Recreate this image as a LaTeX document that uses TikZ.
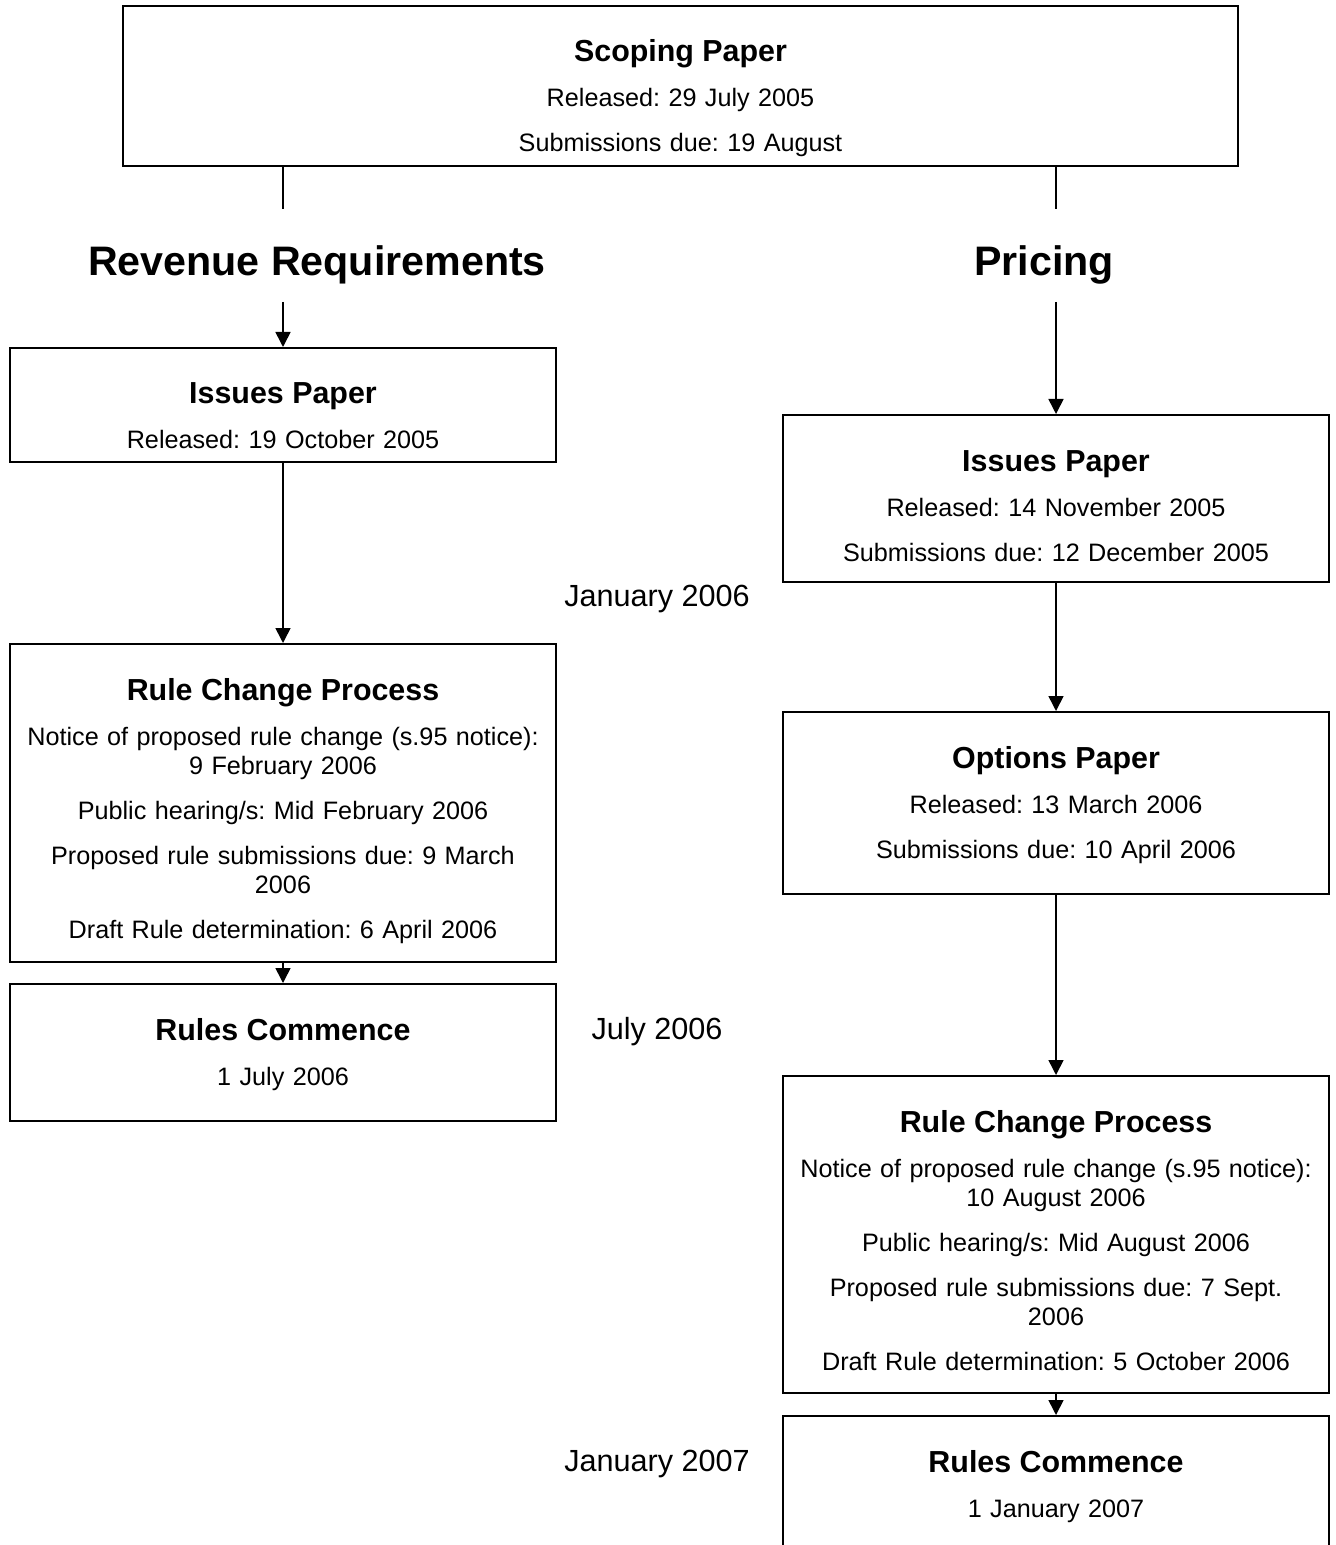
\documentclass[tikz,border=0pt]{standalone}
\usepackage{fontspec}
\setmainfont{Liberation Sans}
\usetikzlibrary{arrows.meta}
\newcommand{\boxtitle}[1]{{\bfseries\fontsize{15.2}{18}\selectfont #1}}
\frenchspacing

\begin{document}
\begin{tikzpicture}[x=0.5pt,y=-0.5pt,>={Triangle[length=7.5pt,width=7.5pt]},
    box/.style={draw,line width=1pt,anchor=north,align=center,
        inner xsep=0pt,inner ysep=0pt,text height=28pt,
        font=\fontsize{12.6}{14.5}\selectfont},
    heading/.style={anchor=base,font=\bfseries\fontsize{20.6}{24}\selectfont},
    datelabel/.style={anchor=base,font=\fontsize{15.3}{18}\selectfont},
    link/.style={line width=0.8pt}]
    \useasboundingbox (0,0) rectangle (1336,1545);

    %======================================================
    % top box
    %======================================================
    \node[box,text width=557.5pt,text depth=52pt] (scoping) at (680.5,5)
        {\boxtitle{Scoping Paper}\\[8pt]
         Released: 29 July 2005\\[8pt]
         Submissions due: 19 August};

    % split into the two streams
    \coordinate (rrSplit) at (283,209);
    \coordinate (prSplit) at (1056,209);
    \coordinate (rrFeed) at (283,302);
    \coordinate (prFeed) at (1056,302);

    \draw[link] (scoping.south -| rrSplit) -- (rrSplit);
    \draw[link] (scoping.south -| prSplit) -- (prSplit);

    \node[heading] (rrHead) at (317,276) {Revenue Requirements};
    \node[heading] (prHead) at (1044,276) {Pricing};

    %======================================================
    % revenue requirements
    %======================================================
    \node[box,text width=273pt,text depth=29pt] (rrIssues) at (283,347)
        {\boxtitle{Issues Paper}\\[8pt]
         Released: 19 October 2005};

    \node[box,text width=273pt,text depth=131pt] (rrRule) at (283,643)
        {\boxtitle{Rule Change Process}\\[8pt]
         Notice of proposed rule change (s.95 notice):\\
         9 February 2006\\[8pt]
         Public hearing/s: Mid February 2006\\[8pt]
         Proposed rule submissions due: 9 March\\
         2006\\[8pt]
         Draft Rule determination: 6 April 2006};

    \node[box,text width=273pt,text depth=40.5pt] (rrCommence) at (283,983)
        {\boxtitle{Rules Commence}\\[8pt]
         1 July 2006};

    \draw[link,->] (rrFeed) -- (rrIssues.north);
    \draw[link,->] (rrIssues) -- (rrRule);
    \draw[link,->] (rrRule) -- (rrCommence);

    %======================================================
    % pricing
    %======================================================
    \node[box,text width=273pt,text depth=55.5pt] (prIssues) at (1056,414)
        {\boxtitle{Issues Paper}\\[8pt]
         Released: 14 November 2005\\[8pt]
         Submissions due: 12 December 2005};

    \node[box,text width=273pt,text depth=63pt] (prOptions) at (1056,711)
        {\boxtitle{Options Paper}\\[8pt]
         Released: 13 March 2006\\[8pt]
         Submissions due: 10 April 2006};

    \node[box,text width=273pt,text depth=130.5pt] (prRule) at (1056,1075)
        {\boxtitle{Rule Change Process}\\[8pt]
         Notice of proposed rule change (s.95 notice):\\
         10 August 2006\\[8pt]
         Public hearing/s: Mid August 2006\\[8pt]
         Proposed rule submissions due: 7 Sept.\\
         2006\\[8pt]
         Draft Rule determination: 5 October 2006};

    \node[box,text width=273pt,text depth=100pt] (prCommence) at (1056,1415)
        {\boxtitle{Rules Commence}\\[8pt]
         1 January 2007};

    \draw[link,->] (prFeed) -- (prIssues.north);
    \draw[link,->] (prIssues) -- (prOptions);
    \draw[link,->] (prOptions) -- (prRule);
    \draw[link,->] (prRule) -- (prCommence);

    % dates
    \node[datelabel] (janSix) at (657,606) {January 2006};
    \node[datelabel] (julSix) at (657,1039) {July 2006};
    \node[datelabel] (janSeven) at (657,1471) {January 2007};
\end{tikzpicture}
\end{document}
